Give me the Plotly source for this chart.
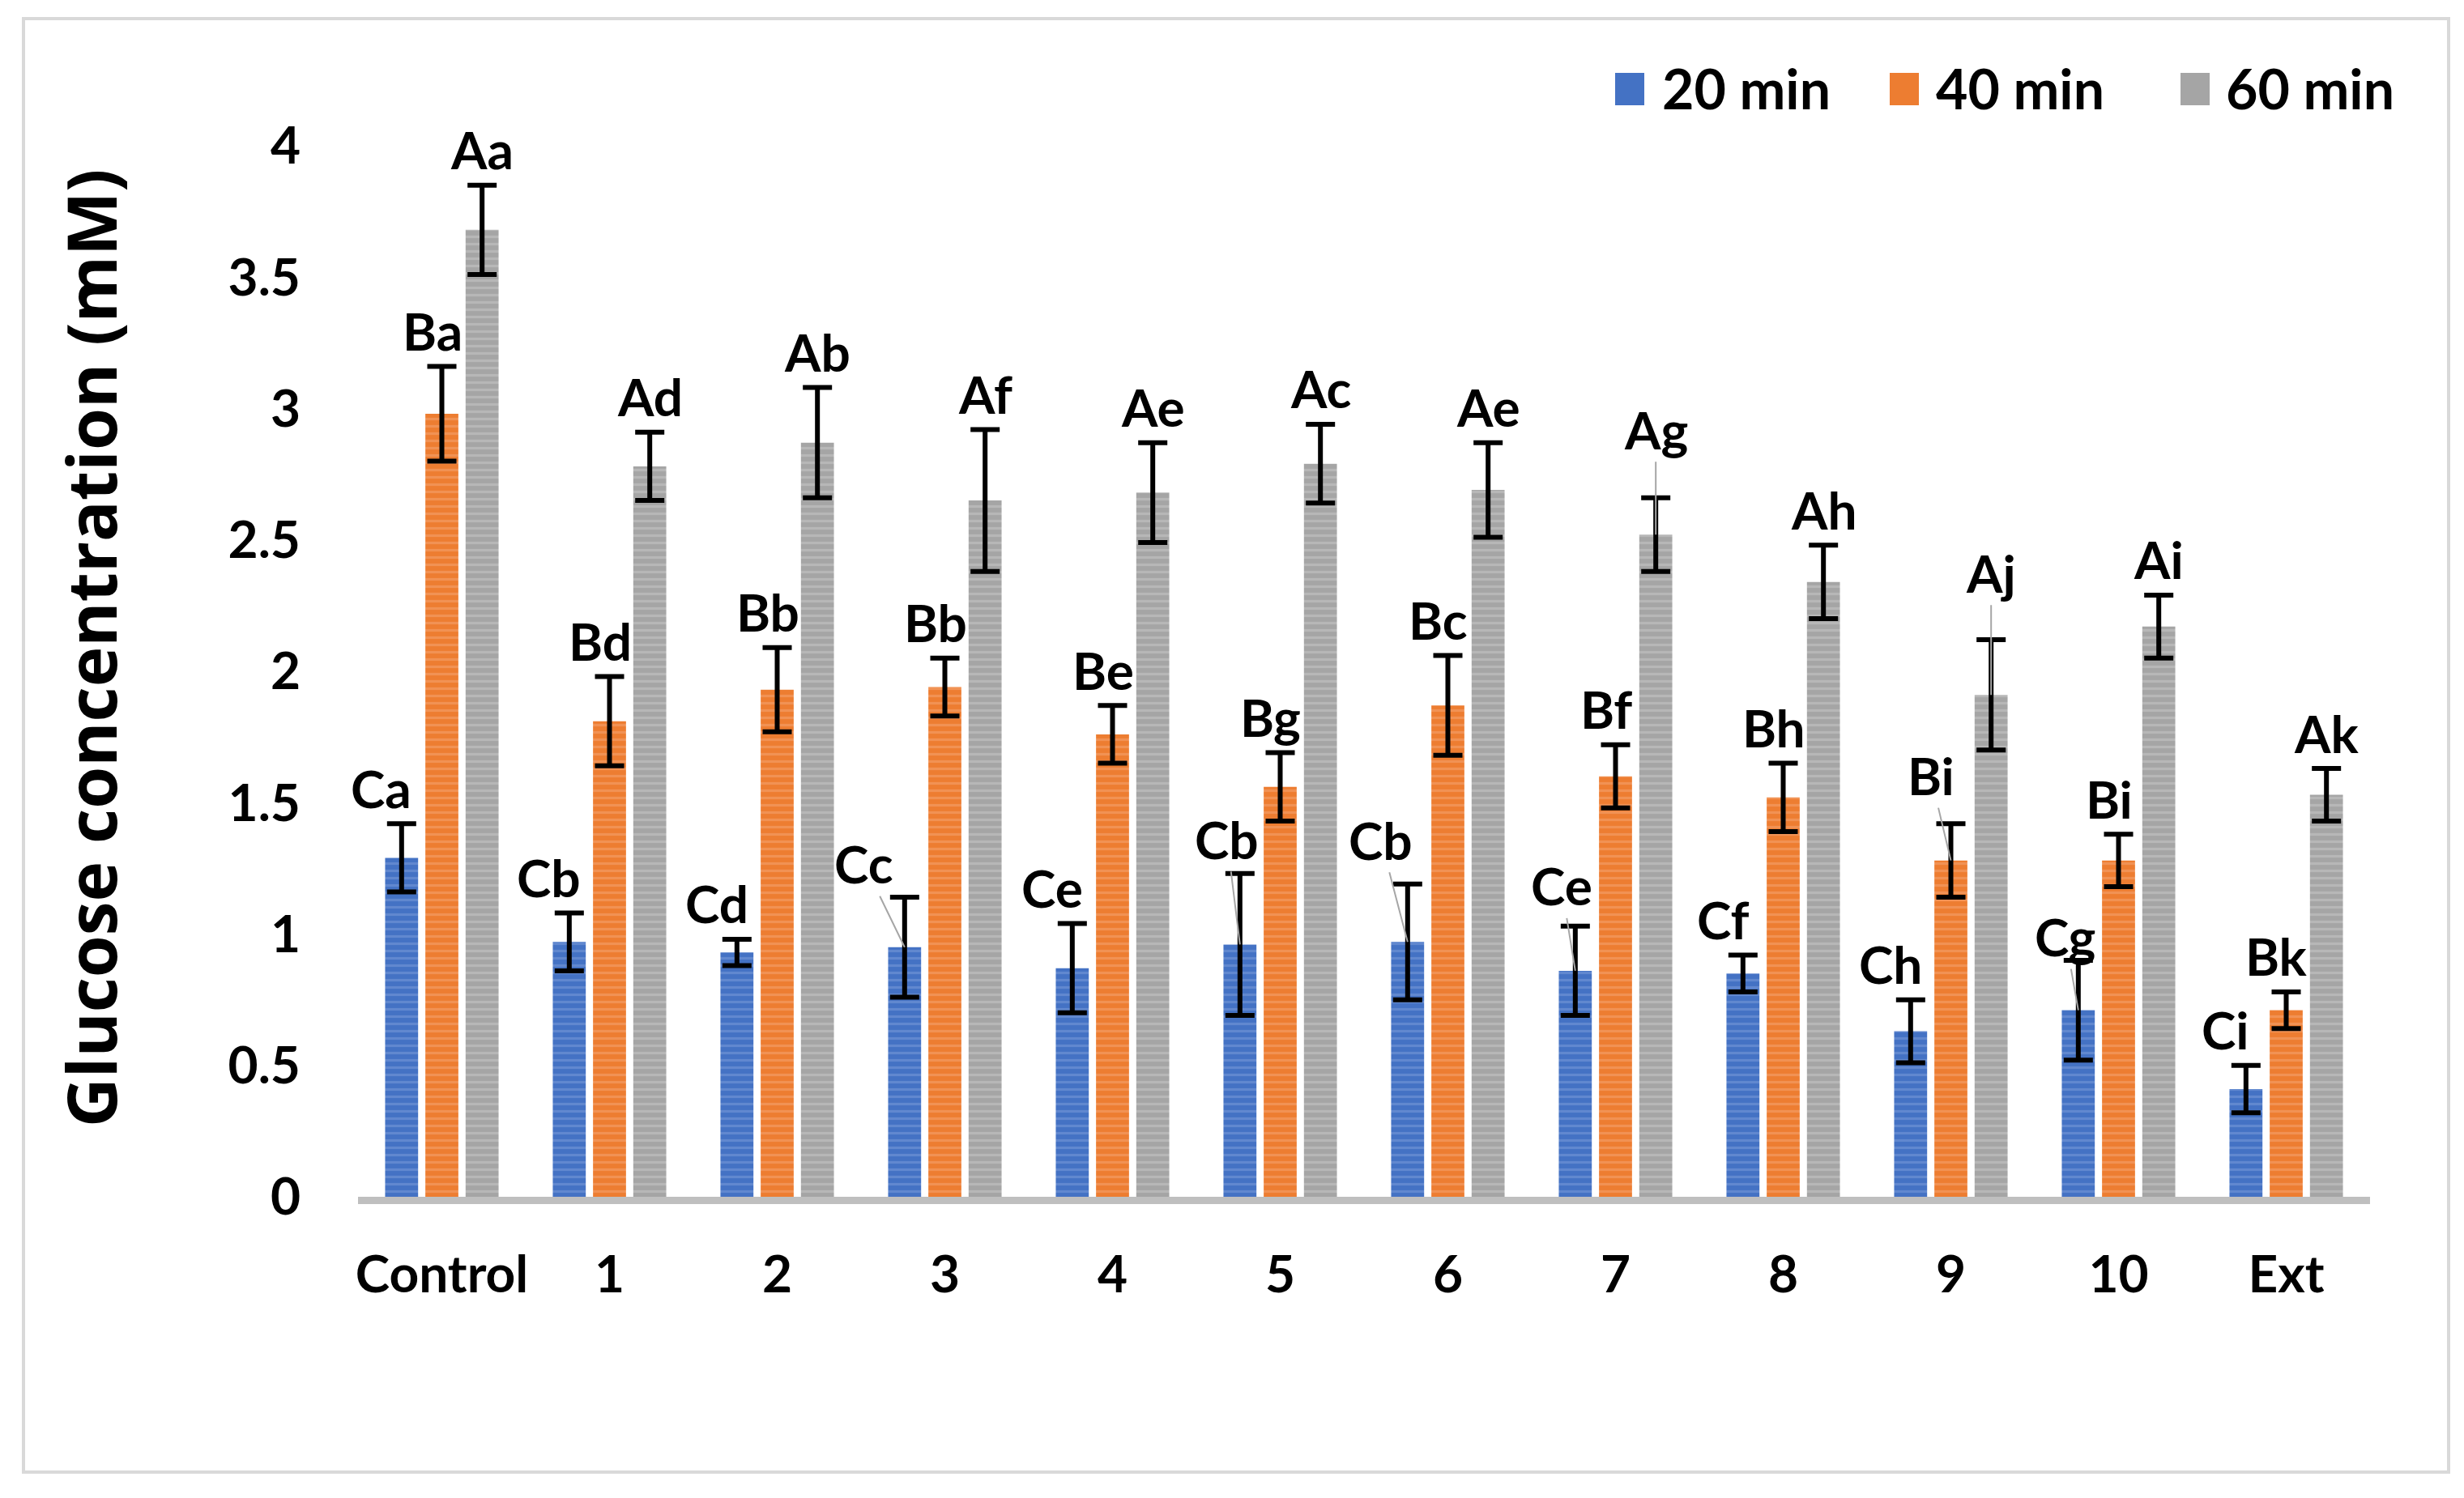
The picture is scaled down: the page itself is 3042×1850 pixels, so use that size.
import plotly.graph_objects as go

# ---------------- data ----------------
categories = ["Control", "1", "2", "3", "4", "5", "6", "7", "8", "9", "10", "Ext"]
series_names = ["20 min", "40 min", "60 min"]

mean_20 = [1.29, 0.97, 0.93, 0.95, 0.87, 0.96, 0.97, 0.86, 0.85, 0.63, 0.71, 0.41]
err_20 = [0.13, 0.11, 0.05, 0.19, 0.17, 0.27, 0.22, 0.17, 0.07, 0.12, 0.19, 0.09]
mean_40 = [2.98, 1.81, 1.93, 1.94, 1.76, 1.56, 1.87, 1.60, 1.52, 1.28, 1.28, 0.71]
err_40 = [0.18, 0.17, 0.16, 0.11, 0.11, 0.13, 0.19, 0.12, 0.13, 0.14, 0.10, 0.07]
mean_60 = [3.68, 2.78, 2.87, 2.65, 2.68, 2.79, 2.69, 2.52, 2.34, 1.91, 2.17, 1.53]
err_60 = [0.17, 0.13, 0.21, 0.27, 0.19, 0.15, 0.18, 0.14, 0.14, 0.21, 0.12, 0.10]

labels_20 = ["Ca", "Cb", "Cd", "Cc", "Ce", "Cb", "Cb", "Ce", "Cf", "Ch", "Cg", "Ci"]
labels_40 = ["Ba", "Bd", "Bb", "Bb", "Be", "Bg", "Bc", "Bf", "Bh", "Bi", "Bi", "Bk"]
labels_60 = ["Aa", "Ad", "Ab", "Af", "Ae", "Ac", "Ae", "Ag", "Ah", "Aj", "Ai", "Ak"]

y_ticks = [0, 0.5, 1, 1.5, 2, 2.5, 3, 3.5, 4]
y_title = "Glucose concentration (mM)"

# ---------------- style ----------------
W, H = 3042, 1850
OFF = 8  # page body margin
ML, MT = 442 - OFF, 180 - OFF
PW, PH = 2484, 1298
MR, MB = W - ML - PW, H - MT - PH

base_colors = ["#4472C4", "#ED7D31", "#A5A5A5"]
stripe_colors = ["#7D9DDA", "#F5A877", "#CACACA"]
label_font = dict(family="Lato", size=64, color="black", weight="bold")
legend_font = dict(family="Lato", size=68, color="black", weight="bold")

BARGAP = 0.28
BARGROUPGAP = 0.18
cat_px = PW / len(categories)
slot_px = cat_px * (1 - BARGAP) / 3
offsets_px = [-slot_px, 0, slot_px]
label_nudge_px = [-25, -12, 0]
label_lift_px = 44

# labels that were dragged away from their bar, with a grey leader line
# (series index, category index): (dx, dy) of the label from the bar top, in px
leader_labels = {
    (0, 3): (-50, -103),
    (0, 5): (-16, -130),
    (0, 6): (-33, -126),
    (0, 7): (-17, -105),
    (0, 10): (-16, -91),
    (1, 9): (-25, -105),
    (2, 7): (0, -130),
    (2, 9): (0, -151),
}

means = [mean_20, mean_40, mean_60]
errs = [err_20, err_40, err_60]
labels = [labels_20, labels_40, labels_60]

fig = go.Figure()
for i in range(3):
    fig.add_trace(go.Bar(
        x=categories, y=means[i], name=series_names[i], showlegend=False,
        marker=dict(color=base_colors[i], line=dict(width=0),
                    pattern=dict(shape="-", fgcolor=stripe_colors[i],
                                 bgcolor=base_colors[i], size=9, solidity=0.35)),
        error_y=dict(type="data", array=errs[i], visible=True,
                     color="black", thickness=6, width=18),
    ))

annotations = []
for i in range(3):
    for j, (c, v, e, t) in enumerate(zip(categories, means[i], errs[i], labels[i])):
        if (i, j) in leader_labels:
            dx, dy = leader_labels[(i, j)]
            annotations.append(dict(
                x=c, y=v, xref="x", yref="y", text=t, showarrow=True,
                arrowhead=0, arrowwidth=2, arrowcolor="#A6A6A6",
                ax=dx, ay=dy, xshift=offsets_px[i], standoff=0,
                font=label_font))
        else:
            annotations.append(dict(
                x=c, y=v + e, xref="x", yref="y", text=t, showarrow=False,
                xshift=offsets_px[i] + label_nudge_px[i], yshift=label_lift_px,
                yanchor="middle", xanchor="center", font=label_font))


def px_x(p):
    return (p - OFF - ML) / PW


def px_y(p):
    return (MT + PH - (p - OFF)) / PH


shapes = []
# legend (top right)
legend_sw_x = [1994, 2333, 2692]
legend_text_x = [2050, 2388, 2746]
for i in range(3):
    shapes.append(dict(type="rect", xref="paper", yref="paper",
                       x0=px_x(legend_sw_x[i]), x1=px_x(legend_sw_x[i] + 36),
                       y0=px_y(130), y1=px_y(90),
                       fillcolor=base_colors[i], line=dict(width=0)))
    annotations.append(dict(x=px_x(legend_text_x[i]), y=px_y(108), xref="paper", yref="paper",
                            text=series_names[i], showarrow=False, xanchor="left",
                            yanchor="middle", font=legend_font))

# y-axis title
annotations.append(dict(x=px_x(111), y=px_y(800), xref="paper", yref="paper",
                        text=y_title, textangle=-90, showarrow=False,
                        xanchor="center", yanchor="middle",
                        font=dict(family="Open Sans", size=84, color="black", weight="bold")))

# outer light border
shapes.append(dict(type="rect", xref="paper", yref="paper",
                   x0=px_x(29), x1=px_x(3023), y0=px_y(1818), y1=px_y(23),
                   line=dict(color="#D9D9D9", width=4), fillcolor="rgba(0,0,0,0)", layer="below"))

fig.update_layout(
    width=W, height=H,
    margin=dict(l=ML, r=MR, t=MT, b=MB),
    paper_bgcolor="white", plot_bgcolor="white",
    barmode="group", bargap=BARGAP, bargroupgap=BARGROUPGAP,
    annotations=annotations, shapes=shapes,
    xaxis=dict(type="category", range=[-0.5, len(categories) - 0.5],
               showline=True, linecolor="#BFBFBF", linewidth=9,
               ticks="", showgrid=False, tickfont=label_font,
               ticklabelstandoff=32),
    yaxis=dict(range=[0, 4], tickvals=y_ticks, showgrid=False, zeroline=False,
               showline=False, ticks="", tickfont=label_font,
               ticklabelstandoff=70),
    font=dict(family="Lato"),
)

fig.write_html("out.html")
